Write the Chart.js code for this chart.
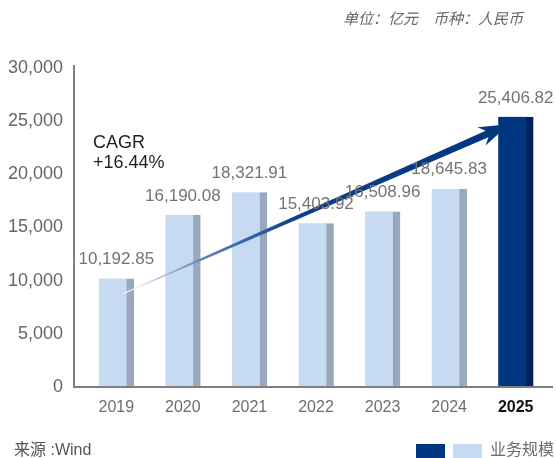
<!DOCTYPE html>
<html>
<head>
<meta charset="utf-8">
<script src="https://cdn.jsdelivr.net/npm/chart.js@4/dist/chart.umd.min.js"></script>
<style>
  html, body { margin: 0; padding: 0; background: #fff; }
  #wrap { width: 556px; height: 458px; position: relative; }
</style>
</head>
<body>
<div id="wrap"><canvas id="chart" width="556" height="458"></canvas></div>
<script>
// chart data
const years = ['2019', '2020', '2021', '2022', '2023', '2024', '2025'];
const scaleValues = [10192.85, 16190.08, 18321.91, 15403.92, 16508.96, 18645.83, 25406.82];
const yTickValues = [0, 5000, 10000, 15000, 20000, 25000, 30000];
const seriesName = '业务规模';
const unitNote = '单位：亿元　币种：人民币';
const sourceNote = '来源 :Wind';
const cagrLines = ['CAGR', '+16.44%'];
// arrow anchors in data space (category index, value)
const arrowFrom = [0.11, 8800];
const arrowTo = [5.9, 24700];

const FONT = 'Arial, "Liberation Sans", "Noto Sans CJK SC", sans-serif';
const LIGHT = '#c6daf1', LIGHT_SIDE = '#97a9bb';
const DARK = '#003580', DARK_SIDE = '#00245a';
const last = years.length - 1;

// axis lines, growth arrow, value labels, notes and legend
const decor = {
  id: 'decor',
  afterDatasetsDraw(chart) {
    const { ctx, chartArea: area, scales: { x, y } } = chart;
    const axisX = area.left - 9;
    ctx.save();
    ctx.strokeStyle = '#7f7f7f';
    ctx.lineWidth = 2;
    ctx.beginPath();
    ctx.moveTo(axisX, y.getPixelForValue(30000) - 3);
    ctx.lineTo(axisX, area.bottom + 1);
    ctx.moveTo(axisX - 1, area.bottom);
    ctx.lineTo(area.right + 4, area.bottom);
    ctx.stroke();

    // growth arrow
    const step = x.getPixelForValue(1) - x.getPixelForValue(0);
    const xAt = i => x.getPixelForValue(0) + i * step;
    const x0 = xAt(arrowFrom[0]), y0 = y.getPixelForValue(arrowFrom[1]);
    const x1 = xAt(arrowTo[0]), y1 = y.getPixelForValue(arrowTo[1]);
    const len = Math.hypot(x1 - x0, y1 - y0);
    const ux = (x1 - x0) / len, uy = (y1 - y0) / len;
    const nx = -uy, ny = ux;
    const headLen = 30, headHalf = 10, backCut = 6, w0 = 0.5, w1 = 3.6;
    const bx = x1 - ux * headLen, by = y1 - uy * headLen;
    const grad = ctx.createLinearGradient(x0, y0, x1, y1);
    grad.addColorStop(0, '#ffffff');
    grad.addColorStop(0.2, '#5f86bd');
    grad.addColorStop(0.45, '#0b3f8a');
    grad.addColorStop(1, DARK);
    ctx.fillStyle = grad;
    ctx.beginPath();
    ctx.moveTo(x0 + nx * w0, y0 + ny * w0);
    ctx.lineTo(bx + ux * backCut + nx * w1, by + uy * backCut + ny * w1);
    ctx.lineTo(bx + nx * headHalf, by + ny * headHalf);
    ctx.lineTo(x1, y1);
    ctx.lineTo(bx - nx * headHalf, by - ny * headHalf);
    ctx.lineTo(bx + ux * backCut - nx * w1, by + uy * backCut - ny * w1);
    ctx.lineTo(x0 - nx * w0, y0 - ny * w0);
    ctx.closePath();
    ctx.fill();

    // value labels above bars
    ctx.font = '17px ' + FONT;
    ctx.fillStyle = '#737373';
    ctx.textAlign = 'center';
    ctx.textBaseline = 'middle';
    chart.getDatasetMeta(0).data.forEach((bar, i) => {
      const txt = scaleValues[i].toLocaleString('en-US', { minimumFractionDigits: 2, maximumFractionDigits: 2 });
      ctx.fillText(txt, bar.x, bar.y - 19);
    });
    ctx.restore();
  },
  afterDraw(chart) {
    const { ctx, chartArea: area } = chart;
    ctx.save();
    // CAGR note
    ctx.fillStyle = '#1f1f1f';
    ctx.font = '18px ' + FONT;
    ctx.textAlign = 'left';
    ctx.textBaseline = 'alphabetic';
    ctx.fillText(cagrLines[0], area.left + 10, 148);
    ctx.fillText(cagrLines[1], area.left + 10, 168);
    // unit note
    ctx.fillStyle = '#666';
    ctx.font = 'italic 15px ' + FONT;
    ctx.textBaseline = 'middle';
    ctx.fillText(unitNote, 343, 20);
    // source
    ctx.fillStyle = '#555';
    ctx.font = '16px ' + FONT;
    ctx.fillText(sourceNote, 14, 451);
    // legend
    ctx.fillStyle = DARK;
    ctx.fillRect(416, 444, 29, 14);
    ctx.fillStyle = LIGHT;
    ctx.fillRect(453, 444, 29, 14);
    ctx.fillStyle = '#6b6b6b';
    ctx.font = '16px ' + FONT;
    ctx.fillText(seriesName, 490, 451);
    ctx.restore();
  }
};

new Chart(document.getElementById('chart'), {
  type: 'bar',
  data: {
    labels: years,
    datasets: [{
      label: seriesName,
      data: scaleValues,
      backgroundColor: years.map((_, i) => i === last ? DARK : LIGHT),
      borderColor: years.map((_, i) => i === last ? DARK_SIDE : LIGHT_SIDE),
      borderWidth: { top: 0, left: 0, bottom: 0, right: 7.5 },
      borderSkipped: false,
      barThickness: 35
    }]
  },
  options: {
    responsive: false,
    animation: false,
    layout: { padding: { top: 68, right: 7, left: 0, bottom: 0 } },
    plugins: { legend: { display: false }, tooltip: { enabled: false } },
    scales: {
      x: {
        grid: { display: false, drawTicks: false },
        border: { display: false },
        ticks: {
          padding: 11,
          color: ctx => ctx.index === last ? '#111' : '#6e6e6e',
          font: ctx => ({ family: FONT, size: 16, weight: ctx.index === last ? 'bold' : 'normal' })
        },
        afterFit: s => { s.height = 71; }
      },
      y: {
        min: 0,
        max: 30000,
        grid: { display: false, drawTicks: false },
        border: { display: false },
        afterBuildTicks: s => { s.ticks = yTickValues.map(v => ({ value: v })); },
        ticks: {
          padding: 20,
          color: '#666',
          font: { family: FONT, size: 18 },
          callback: v => v.toLocaleString('en-US')
        },
        afterFit: s => { s.width = 83; }
      }
    }
  },
  plugins: [decor]
});
</script>
</body>
</html>
